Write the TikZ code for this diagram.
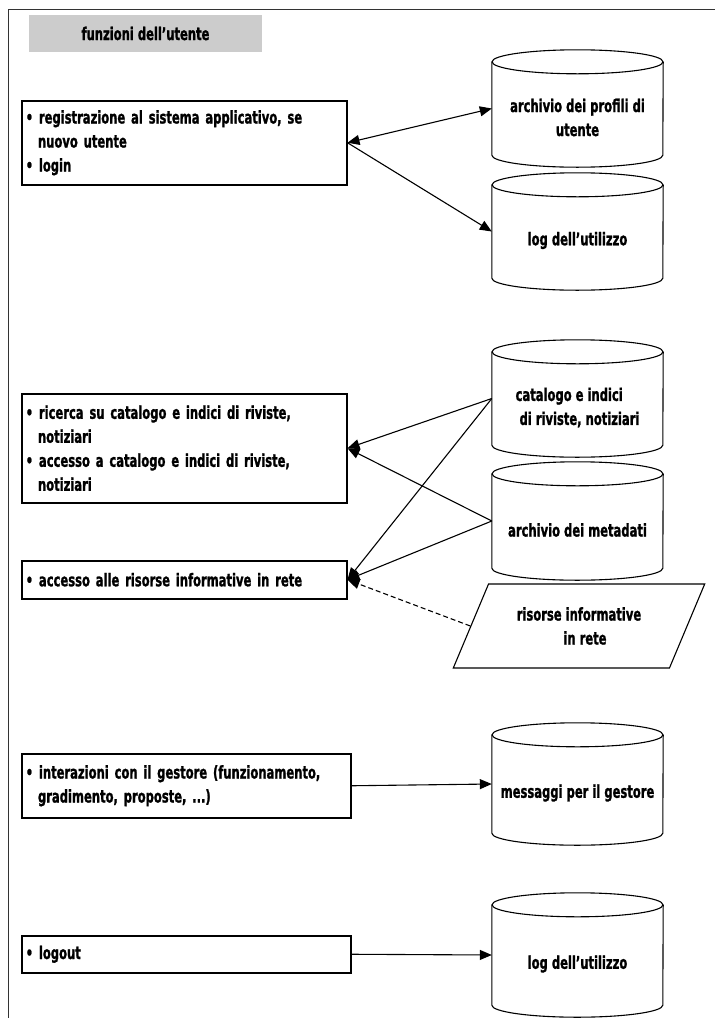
\documentclass[tikz,border=0pt]{standalone}
\usepackage{fontspec}
\setmainfont{DejaVu Sans}[FakeStretch=0.66, BoldFeatures={FakeBold=1.2}]
\usetikzlibrary{shapes.geometric, arrows.meta, positioning}
\newcommand\cilindro[1]{%
    \draw[line width=1.1pt] ([yshift=-12pt]#1.north) ellipse[x radius=85.5pt, y radius=12pt];
    \draw[line width=1.1pt] ([yshift=-12pt]#1.north west) -- ([yshift=12pt]#1.south west)
        arc[start angle=180, end angle=360, x radius=85.5pt, y radius=12pt] -- ([yshift=-12pt]#1.north east);}

\begin{document}
\begin{tikzpicture}[x=1pt, y=-1pt,
        testo/.style={font=\fontsize{17.5}{24}\selectfont\bfseries},
        funzione/.style={testo, draw, line width=1.5pt, anchor=north west, align=left, inner xsep=4pt, inner ysep=0pt},
        archivio/.style={minimum width=171pt, minimum height=117pt, inner sep=0pt},
        dicitura/.style={testo, align=center, below=9pt of #1.center, anchor=center},
        freccia/.style={-{Triangle[length=12pt,width=10pt]}, line width=1.1pt}]
        \useasboundingbox (0,0) rectangle (715,1018);
        \draw[line width=0.8pt, black!80] (8,1018) -- (8,9) -- (715,9);

        \node[testo, fill=gray!40, minimum width=233pt, minimum height=37pt] (titolo) at (145.5,33.5) {funzioni dell’utente};

        \node[funzione, text width=317pt, minimum height=84pt] (login) at (21,100) {\textbullet{} registrazione al sistema applicativo, se\\\hspace*{0.7em}nuovo utente\\\textbullet{} login};
        \node[funzione, text width=317pt, minimum height=109pt] (ricerca) at (21,393) {\textbullet{} ricerca su catalogo e indici di riviste,\\\hspace*{0.7em}notiziari\\\textbullet{} accesso a catalogo e indici di riviste,\\\hspace*{0.7em}notiziari};
        \node[funzione, text width=317pt, minimum height=38pt] (accesso) at (21,560) {\textbullet{} accesso alle risorse informative in rete};
        \node[funzione, text width=321pt, minimum height=64pt] (gestore) at (21,753) {\textbullet{} interazioni con il gestore (funzionamento,\\\hspace*{0.7em}gradimento, proposte, ...)};
        \node[funzione, text width=321pt, minimum height=37pt] (logout) at (21,935) {\textbullet{} logout};

        \node[archivio] (profili) at (577.5,108.5) {};
        \node[archivio] (utilizzo) at (577.5,231.5) {};
        \node[archivio] (catalogo) at (577.5,398.5) {};
        \node[archivio, minimum height=118pt] (metadati) at (577.5,521) {};
        \node[archivio, minimum height=122pt] (messaggi) at (577.5,784) {};
        \node[archivio, minimum height=124pt] (uscita) at (577.5,955) {};
        \foreach \c in {profili, utilizzo, catalogo, metadati, messaggi, uscita}
            {\cilindro{\c}}
        \node[dicitura=profili] (profili-t) {archivio dei profili di\\utente};
        \node[dicitura=utilizzo] (utilizzo-t) {log dell’utilizzo};
        \node[dicitura=catalogo, align=left] (catalogo-t) {catalogo e indici\\\hspace*{4pt}di riviste, notiziari};
        \node[dicitura=metadati] (metadati-t) {archivio dei metadati};
        \node[dicitura=messaggi] (messaggi-t) {messaggi per il gestore};
        \node[dicitura=uscita] (uscita-t) {log dell’utilizzo};
        \node[testo, draw, line width=1.1pt, trapezium, trapezium left angle=60, trapezium right angle=120, trapezium stretches=true, minimum width=252pt, minimum height=84pt, align=center] (rete) at (579,626) {risorse informative\\\hspace*{12pt}in rete};

        \draw[freccia, {Triangle[length=12pt,width=10pt]}-{Triangle[length=12pt,width=10pt]}] (login.east) -- (profili.west);
        \draw[freccia] (login.east) -- (utilizzo.west);
        \draw[freccia] (catalogo.west) -- (ricerca.east);
        \draw[freccia] (metadati.west) -- (ricerca.east);
        \draw[freccia] (catalogo.west) -- (accesso.east);
        \draw[freccia] (metadati.west) -- (accesso.east);
        \draw[freccia, dash pattern=on 5pt off 3pt] (rete.west) -- (accesso.east);
        \draw[freccia] (gestore.east) -- (messaggi.west);
        \draw[freccia] (logout.east) -- (uscita.west);
    \end{tikzpicture}
\end{document}
